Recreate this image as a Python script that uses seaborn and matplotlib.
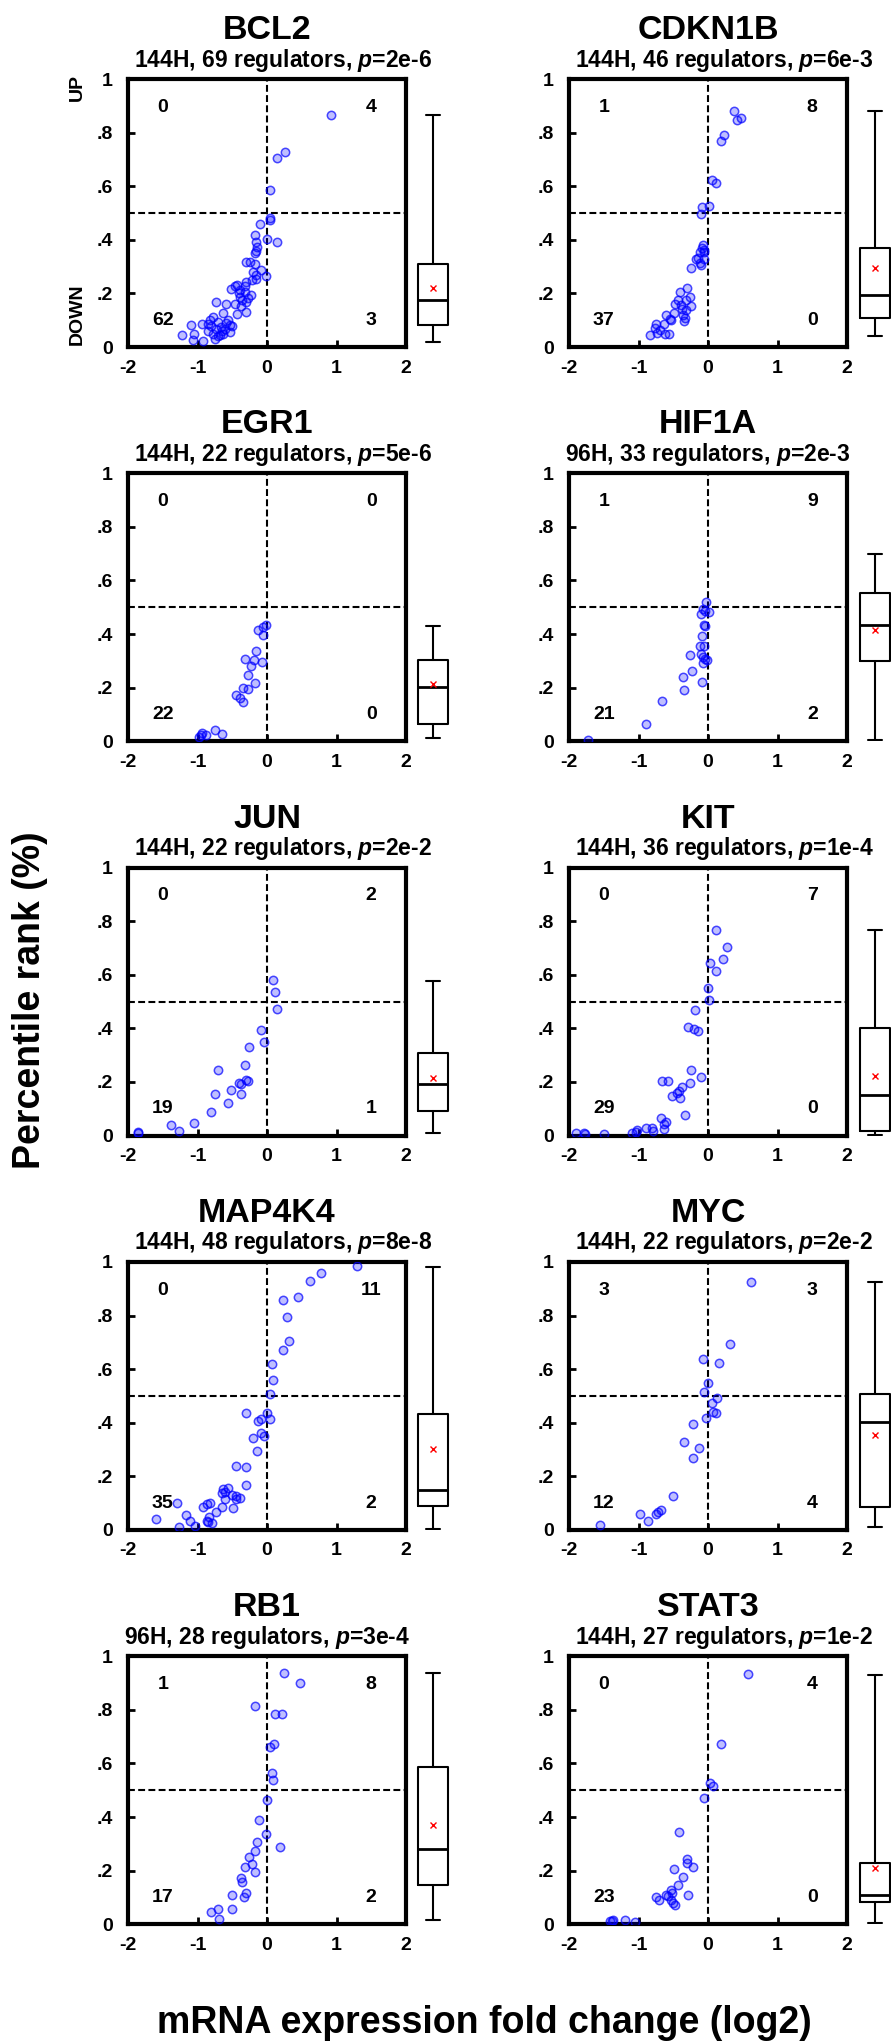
import matplotlib
matplotlib.use("Agg")
import matplotlib.pyplot as plt
import seaborn as sns

GENES = ["BCL2", "CDKN1B", "EGR1", "HIF1A", "JUN", "KIT", "MAP4K4", "MYC", "RB1", "STAT3"]
TIMEPOINTS = ["144H", "144H", "144H", "96H", "144H", "144H", "144H", "144H", "96H", "144H"]
N_REGULATORS = [69, 46, 22, 33, 22, 36, 48, 22, 28, 27]
P_VALUES = ["2e-6", "6e-3", "5e-6", "2e-3", "2e-2", "1e-4", "8e-8", "2e-2", "3e-4", "1e-2"]

# regulators per quadrant
COUNT_UL = [0, 1, 0, 1, 0, 0, 0, 3, 1, 0]
COUNT_UR = [4, 8, 0, 9, 2, 7, 11, 3, 8, 4]
COUNT_LL = [62, 37, 22, 21, 19, 29, 35, 12, 17, 23]
COUNT_LR = [3, 0, 0, 2, 1, 0, 2, 4, 2, 0]

# box plot summaries of percentile rank
BOX_LOW = [0.019, 0.040, 0.012, 0.003, 0.010, 0.002, 0.004, 0.010, 0.015, 0.006]
BOX_Q1 = [0.081, 0.108, 0.066, 0.300, 0.091, 0.019, 0.091, 0.084, 0.146, 0.081]
BOX_MED = [0.177, 0.193, 0.203, 0.434, 0.191, 0.152, 0.149, 0.404, 0.280, 0.110]
BOX_Q3 = [0.311, 0.368, 0.305, 0.553, 0.310, 0.400, 0.433, 0.507, 0.586, 0.228]
BOX_HIGH = [0.865, 0.879, 0.432, 0.700, 0.578, 0.769, 0.981, 0.925, 0.937, 0.931]
BOX_MEAN = [0.222, 0.293, 0.212, 0.415, 0.216, 0.224, 0.303, 0.354, 0.371, 0.210]

BCL2_X = [0.92, 0.257, 0.151, 0.05, 0.04, 0.04, 0.146, -0.007, -0.017, -0.103,
          -0.166, -0.152, -0.142, -0.152, -0.175, -0.295, -0.238, -0.175, -0.089, -0.199,
          -0.152, -0.152, -0.223, -0.295, -0.319, -0.425, -0.454, -0.511, -0.391, -0.319,
          -0.233, -0.391, -0.271, -0.353, -0.295, -0.463, -0.583, -0.727, -0.377, -0.305,
          -0.43, -0.631, -0.775, -0.823, -0.929, -1.088, -0.847, -0.703, -0.583, -0.535,
          -0.497, -0.655, -0.727, -0.847, -0.775, -0.679, -0.631, -0.535, -0.703, -0.751,
          -1.054, -1.217, -1.064, -0.919, -0.607, -0.799, -0.65, -0.56, -0.40]
BCL2_Y = [0.865, 0.726, 0.706, 0.584, 0.482, 0.473, 0.391, 0.402, 0.265, 0.458,
          0.417, 0.392, 0.374, 0.359, 0.349, 0.318, 0.318, 0.311, 0.289, 0.28,
          0.268, 0.255, 0.249, 0.243, 0.227, 0.23, 0.227, 0.215, 0.212, 0.205,
          0.193, 0.187, 0.181, 0.177, 0.168, 0.162, 0.162, 0.168, 0.152, 0.131,
          0.125, 0.128, 0.112, 0.1, 0.087, 0.081, 0.087, 0.093, 0.09, 0.081,
          0.077, 0.075, 0.068, 0.059, 0.05, 0.044, 0.05, 0.056, 0.04, 0.031,
          0.047, 0.046, 0.025, 0.022, 0.068, 0.077, 0.06, 0.10, 0.20]

CDKN1B_X = [0.371, 0.419, 0.477, 0.228, 0.18, 0.06, 0.117, 0.021, -0.089, -0.098,
            -0.074, -0.089, -0.051, -0.108, -0.06, -0.146, -0.17, -0.051, -0.122, -0.098,
            -0.251, -0.304, -0.41, -0.266, -0.434, -0.314, -0.472, -0.391, -0.251, -0.381,
            -0.314, -0.491, -0.362, -0.601, -0.553, -0.529, -0.347, -0.64, -0.745, -0.769,
            -0.697, -0.735, -0.841, -0.625, -0.568, -0.338]
CDKN1B_Y = [0.882, 0.848, 0.854, 0.792, 0.769, 0.623, 0.613, 0.526, 0.524, 0.496,
            0.38, 0.37, 0.362, 0.355, 0.353, 0.333, 0.33, 0.33, 0.312, 0.305,
            0.293, 0.221, 0.206, 0.187, 0.175, 0.175, 0.162, 0.156, 0.153, 0.143,
            0.137, 0.128, 0.118, 0.118, 0.106, 0.1, 0.096, 0.087, 0.087, 0.071,
            0.062, 0.054, 0.046, 0.05, 0.047, 0.108]

EGR1_X = [-0.015, -0.063, -0.135, -0.053, -0.159, -0.318, -0.183, -0.077, -0.231, -0.28,
          -0.173, -0.352, -0.28, -0.439, -0.386, -0.352, -0.752, -0.651, -0.93, -0.882,
          -0.978, -0.954]
EGR1_Y = [0.435, 0.427, 0.417, 0.398, 0.336, 0.308, 0.303, 0.295, 0.28, 0.248,
          0.218, 0.199, 0.197, 0.171, 0.162, 0.146, 0.041, 0.027, 0.031, 0.022,
          0.016, 0.025]

HIF1A_X = [-0.029, -0.068, -0.039, -0.101, 0.01, -0.053, -0.039, -0.092, -0.111, -0.053,
           -0.101, -0.077, -0.039, -0.019, -0.068, -0.261, -0.232, -0.357, -0.092, -0.348,
           -0.657, -0.889, -1.72]
HIF1A_Y = [0.519, 0.494, 0.488, 0.475, 0.481, 0.434, 0.431, 0.394, 0.356, 0.356,
           0.325, 0.313, 0.306, 0.303, 0.294, 0.321, 0.263, 0.241, 0.223, 0.191,
           0.15, 0.065, 0.006]

JUN_X = [0.082, 0.111, 0.145, -0.082, -0.048, -0.265, -0.323, -0.699, -0.304, -0.28,
         -0.4, -0.376, -0.52, -0.371, -0.747, -0.554, -0.805, -1.051, -1.383, -1.263,
         -1.855, -1.85]
JUN_Y = [0.579, 0.534, 0.474, 0.395, 0.35, 0.332, 0.262, 0.243, 0.207, 0.203,
         0.195, 0.191, 0.17, 0.157, 0.154, 0.12, 0.087, 0.047, 0.041, 0.019,
         0.012, 0.01]

KIT_X = [0.113, 0.271, 0.223, 0.026, 0.113, 0.007, 0.017, -0.185, -0.286, -0.199,
         -0.142, -0.238, -0.094, -0.655, -0.574, -0.257, -0.367, -0.415, -0.511, -0.401,
         -0.334, -0.67, -0.598, -0.631, -0.631, -0.799, -0.886, -0.79, -1.016, -1.088,
         -1.496, -1.784, -1.774, -1.894, -1.04, -0.439]
KIT_Y = [0.769, 0.704, 0.66, 0.645, 0.616, 0.549, 0.505, 0.468, 0.405, 0.398,
         0.389, 0.246, 0.218, 0.202, 0.202, 0.198, 0.183, 0.168, 0.146, 0.14,
         0.077, 0.067, 0.052, 0.044, 0.025, 0.027, 0.027, 0.017, 0.021, 0.011,
         0.006, 0.009, 0.005, 0.009, 0.015, 0.158]

MAP4K4_X = [1.292, 0.781, 0.617, 0.443, 0.231, 0.289, 0.313, 0.227, 0.072, 0.087,
            0.048, 0.048, 0.005, -0.299, -0.13, -0.082, -0.087, -0.048, -0.202, -0.145,
            -0.443, -0.299, -0.299, -0.554, -0.636, -0.602, -0.651, -0.506, -0.443, -0.395,
            -0.443, -0.602, -1.301, -0.867, -0.819, -0.925, -0.492, -0.651, -0.733, -0.829,
            -1.171, -1.108, -0.858, -0.786, -1.036, -1.59, -1.263, -0.853]
MAP4K4_Y = [0.984, 0.959, 0.928, 0.869, 0.857, 0.795, 0.704, 0.67, 0.62, 0.558,
            0.508, 0.412, 0.436, 0.437, 0.408, 0.415, 0.362, 0.352, 0.344, 0.296,
            0.24, 0.234, 0.166, 0.157, 0.153, 0.141, 0.137, 0.132, 0.128, 0.12,
            0.116, 0.116, 0.1, 0.097, 0.1, 0.085, 0.082, 0.085, 0.066, 0.05,
            0.054, 0.035, 0.035, 0.025, 0.016, 0.041, 0.01, 0.029]

MYC_X = [0.617, 0.314, 0.161, -0.07, -0.007, -0.055, 0.127, 0.055, 0.079, 0.113,
         -0.031, -0.209, -0.343, -0.127, -0.223, -0.502, -0.679, -0.742, -0.982, -0.857,
         -1.558, -0.72]
MYC_Y = [0.925, 0.692, 0.621, 0.636, 0.547, 0.516, 0.494, 0.472, 0.439, 0.435,
         0.416, 0.394, 0.327, 0.304, 0.267, 0.128, 0.075, 0.058, 0.058, 0.035,
         0.019, 0.065]

RB1_X = [0.247, 0.473, -0.175, 0.113, 0.209, 0.103, 0.046, 0.065, 0.089, 0.003,
         0.18, -0.113, -0.012, -0.137, -0.175, -0.257, -0.209, -0.315, -0.17, -0.377,
         -0.358, -0.295, -0.338, -0.507, -0.497, -0.703, -0.809, -0.689]
RB1_Y = [0.936, 0.901, 0.813, 0.784, 0.784, 0.674, 0.661, 0.563, 0.538, 0.464,
         0.289, 0.39, 0.338, 0.305, 0.274, 0.249, 0.225, 0.214, 0.193, 0.174,
         0.159, 0.115, 0.103, 0.109, 0.055, 0.055, 0.046, 0.021]

STAT3_X = [0.569, 0.185, 0.026, 0.074, -0.055, -0.415, -0.305, -0.295, -0.223, -0.487,
           -0.353, -0.43, -0.535, -0.511, -0.598, -0.281, -0.742, -0.703, -0.535, -0.497,
           -0.473, -0.574, -1.193, -1.414, -1.361, -1.049, -1.385]
STAT3_Y = [0.934, 0.672, 0.527, 0.514, 0.472, 0.345, 0.243, 0.228, 0.212, 0.206,
           0.175, 0.147, 0.126, 0.116, 0.11, 0.11, 0.1, 0.089, 0.091, 0.079,
           0.07, 0.106, 0.016, 0.012, 0.015, 0.01, 0.012]

POINTS = {
    "BCL2": (BCL2_X, BCL2_Y), "CDKN1B": (CDKN1B_X, CDKN1B_Y),
    "EGR1": (EGR1_X, EGR1_Y), "HIF1A": (HIF1A_X, HIF1A_Y),
    "JUN": (JUN_X, JUN_Y), "KIT": (KIT_X, KIT_Y),
    "MAP4K4": (MAP4K4_X, MAP4K4_Y), "MYC": (MYC_X, MYC_Y),
    "RB1": (RB1_X, RB1_Y), "STAT3": (STAT3_X, STAT3_Y),
}

# layout in pixels
FW, FH = 891, 2043
AX_LEFT = [128, 569]
AX_W, AX_H = 278, 268
ROW_TOP0, ROW_PITCH = 79, 394.3
BOX_CENTER = [433, 875]
DASH = (0, (3.3, 1.6))

sns.set_style("white")
plt.rcParams["font.family"] = ["Liberation Sans", "DejaVu Sans"]
plt.rcParams["font.weight"] = "bold"
plt.rcParams["text.color"] = "black"
plt.rcParams["xtick.color"] = "black"
plt.rcParams["ytick.color"] = "black"
plt.rcParams["mathtext.fontset"] = "custom"
plt.rcParams["mathtext.rm"] = "Liberation Sans:bold"
plt.rcParams["mathtext.it"] = "Liberation Sans:bold:italic"
plt.rcParams["mathtext.bf"] = "Liberation Sans:bold"

fig = plt.figure(figsize=(FW / 100, FH / 100), dpi=100)

for i, gene in enumerate(GENES):
    row, col = divmod(i, 2)
    left = AX_LEFT[col]
    top = ROW_TOP0 + ROW_PITCH * row
    ax = fig.add_axes([left / FW, 1 - (top + AX_H) / FH, AX_W / FW, AX_H / FH])

    xs, ys = POINTS[gene]
    sns.scatterplot(x=xs, y=ys, ax=ax, s=36, facecolor=(0.0, 0.0, 1.0, 0.25),
                    edgecolor=(0.0, 0.0, 1.0, 0.7), linewidth=1.1, zorder=3, legend=False)
    ax.axvline(0, color="black", lw=1.5, ls=DASH, zorder=1)
    ax.axhline(0.5, color="black", lw=1.5, ls=DASH, zorder=1)

    ax.set_xlim(-2, 2)
    ax.set_ylim(0, 1)
    ax.set_xticks([-2, -1, 0, 1, 2])
    ax.set_xticklabels(["-2", "-1", "0", "1", "2"])
    ax.set_yticks([0, 0.2, 0.4, 0.6, 0.8, 1])
    ax.set_yticklabels(["0", ".2", ".4", ".6", ".8", "1"])
    ax.tick_params(direction="in", length=5, width=2, labelsize=14, bottom=True, left=True,
                   colors="black")
    ax.tick_params(axis="x", pad=9)
    ax.tick_params(axis="y", pad=11)
    for lab in ax.get_xticklabels() + ax.get_yticklabels():
        lab.set_fontweight("bold")
    for sp in ax.spines.values():
        sp.set_linewidth(3)
        sp.set_color("black")
    ax.set_xlabel("")
    ax.set_ylabel("")

    for qx, qy, cnt in [(-1.5, 0.895, COUNT_UL[i]), (1.5, 0.895, COUNT_UR[i]),
                        (-1.5, 0.10, COUNT_LL[i]), (1.5, 0.10, COUNT_LR[i])]:
        ax.text(qx, qy, str(cnt), ha="center", va="center", fontsize=14,
                fontweight="bold", color="black")

    cx = left + AX_W / 2
    fig.text(cx / FW, 1 - (top - 40) / FH, gene, ha="center", va="baseline",
             fontsize=24.5, fontweight="bold", color="black")
    shift = 16 if TIMEPOINTS[i] == "144H" else 0
    fig.text((cx + shift) / FW, 1 - (top - 12.5) / FH,
             f"{TIMEPOINTS[i]}, {N_REGULATORS[i]} regulators, $p$={P_VALUES[i]}",
             ha="center", va="baseline", fontsize=16.5, fontweight="bold", color="black")

    if i == 0:
        ax.text(-0.183, 0.97, "UP", transform=ax.transAxes, rotation=90,
                ha="center", va="center", fontsize=14, fontweight="bold", color="black")
        ax.text(-0.183, 0.122, "DOWN", transform=ax.transAxes, rotation=90,
                ha="center", va="center", fontsize=14, fontweight="bold", color="black")

    bc = BOX_CENTER[col]
    bax = fig.add_axes([(bc - 30) / FW, 1 - (top + AX_H) / FH, 60 / FW, AX_H / FH])
    stats = {"whislo": BOX_LOW[i], "q1": BOX_Q1[i], "med": BOX_MED[i],
             "q3": BOX_Q3[i], "whishi": BOX_HIGH[i], "mean": BOX_MEAN[i], "fliers": []}
    bax.bxp([stats], positions=[0], widths=0.5, capwidths=0.22,
            showmeans=True, showfliers=False,
            boxprops=dict(color="black", linewidth=1.5),
            whiskerprops=dict(color="black", linewidth=1.5),
            capprops=dict(color="black", linewidth=1.5),
            medianprops=dict(color="black", linewidth=2),
            meanprops=dict(marker="x", markeredgecolor="red", markersize=5,
                           markeredgewidth=1))
    bax.set_xlim(-0.5, 0.5)
    bax.set_ylim(0, 1)
    bax.axis("off")

fig.text(30 / FW, 1 - 1000 / FH, "Percentile rank (%)", rotation=90,
         ha="center", va="center", fontsize=27, fontweight="bold", color="black")
fig.text(484 / FW, 1 - 2033 / FH, "mRNA expression fold change (log2)",
         ha="center", va="baseline", fontsize=27, fontweight="bold", color="black")

fig.savefig("out.png", dpi=100)
